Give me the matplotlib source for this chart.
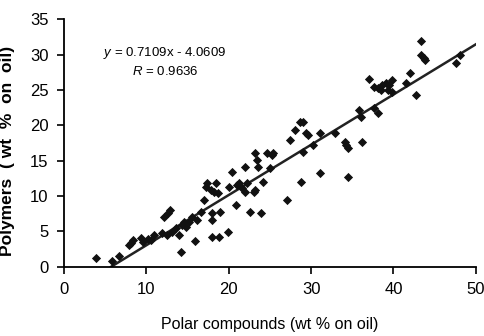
import matplotlib
matplotlib.use("Agg")
import matplotlib.pyplot as plt
import numpy as np

plt.rcParams["font.family"] = ["Liberation Sans", "DejaVu Sans"]
plt.rcParams["mathtext.fontset"] = "custom"
plt.rcParams["mathtext.it"] = "Liberation Sans:italic"

# polar compounds (wt % on oil)
polar = [
    3.86, 5.87, 6.66, 7.95, 8.16, 8.35, 9.36, 9.64, 10.16, 10.57,
    10.96, 11.89, 12.17, 12.57, 12.86, 12.53, 13.17, 13.58, 13.98, 14.18,
    14.30, 14.58, 14.78, 15.18, 15.58, 15.87, 16.18, 16.59, 16.99, 17.19,
    17.39, 17.80, 17.99, 17.99, 18.19, 18.40, 18.71, 19.00, 17.99, 18.80,
    19.92, 20.00, 20.40, 20.88, 21.20, 22.01, 22.20, 21.00, 21.57, 22.01,
    22.61, 23.01, 23.22, 23.41, 23.61, 23.89, 24.22, 24.61, 25.02, 25.22,
    27.03, 28.83, 29.04, 31.05, 34.54, 23.22, 25.42, 27.43, 28.04, 28.64,
    29.04, 29.43, 29.64, 31.05, 30.24, 32.93, 34.06, 34.25, 34.46, 36.18,
    35.87, 36.06, 37.68, 38.07, 37.07, 37.68, 38.07, 38.67, 39.07, 39.48,
    39.88, 38.47, 39.28, 39.88, 41.48, 42.01, 42.69, 43.37, 43.29, 43.70,
    43.89, 47.63, 48.11,
]
# polymers (wt % on oil)
polymers = [
    1.19, 0.85, 1.52, 3.07, 3.31, 3.78, 4.02, 3.54, 3.88, 3.78,
    4.49, 4.73, 7.08, 7.56, 8.03, 4.49, 4.96, 5.44, 4.49, 2.12,
    5.91, 6.37, 5.67, 6.37, 7.08, 3.68, 6.61, 7.79, 9.45, 11.33,
    11.81, 10.86, 7.56, 6.61, 10.62, 11.81, 10.40, 7.79, 4.16, 4.16,
    4.96, 11.33, 13.46, 8.74, 11.81, 14.16, 11.81, 11.57, 11.15, 10.62,
    7.79, 10.62, 16.06, 15.11, 14.16, 7.56, 12.04, 16.06, 13.94, 15.82,
    9.45, 12.04, 16.29, 13.23, 12.66, 10.86, 16.06, 17.95, 19.36, 20.54,
    20.54, 18.90, 18.65, 18.90, 17.24, 18.90, 17.71, 17.24, 16.77, 17.71,
    22.20, 21.25, 22.44, 21.73, 26.54, 25.50, 25.27, 25.74, 25.98, 25.74,
    26.45, 25.03, 25.03, 24.79, 25.98, 27.39, 24.32, 32.01, 29.99, 29.52,
    29.28, 28.81, 29.99,
]
slope = 0.7109
intercept = -4.0609
r_value = 0.9636
x_ticks = [0, 10, 20, 30, 40, 50]
y_ticks = [0, 5, 10, 15, 20, 25, 30, 35]

fig = plt.figure(figsize=(4.85, 3.36), dpi=100)
ax = fig.add_axes([0.132, 0.206, 0.849, 0.736])

ax.scatter(polar, polymers, marker="D", s=22, color="#111111", zorder=3, linewidths=0)
xl = np.array([-intercept / slope, 50])
ax.plot(xl, slope * xl + intercept, color="#222222", lw=1.8, zorder=2)

ax.set_xlim(0, 50)
ax.set_ylim(0, 35)
ax.set_xticks(x_ticks)
ax.set_yticks(y_ticks)
ax.spines[["top", "right"]].set_visible(False)
ax.spines[["left", "bottom"]].set_linewidth(1.3)
ax.tick_params(direction="out", length=5, width=1.2, labelsize=12, pad=6)

ax.set_xlabel("Polar compounds (wt % on oil)", fontsize=11.5, labelpad=14)
ax.set_ylabel("Polymers  ( wt  %  on  oil)", fontsize=12.5, fontweight="bold")
ax.yaxis.set_label_coords(-0.118, 0.47)

ax.text(0.245, 0.865, f"$y$ = {slope}x - {intercept * -1:.4f}", transform=ax.transAxes,
        ha="center", va="center", fontsize=9.5)
ax.text(0.245, 0.79, f"$R$ = {r_value}", transform=ax.transAxes,
        ha="center", va="center", fontsize=9.5)

fig.savefig("out.png", dpi=100)
